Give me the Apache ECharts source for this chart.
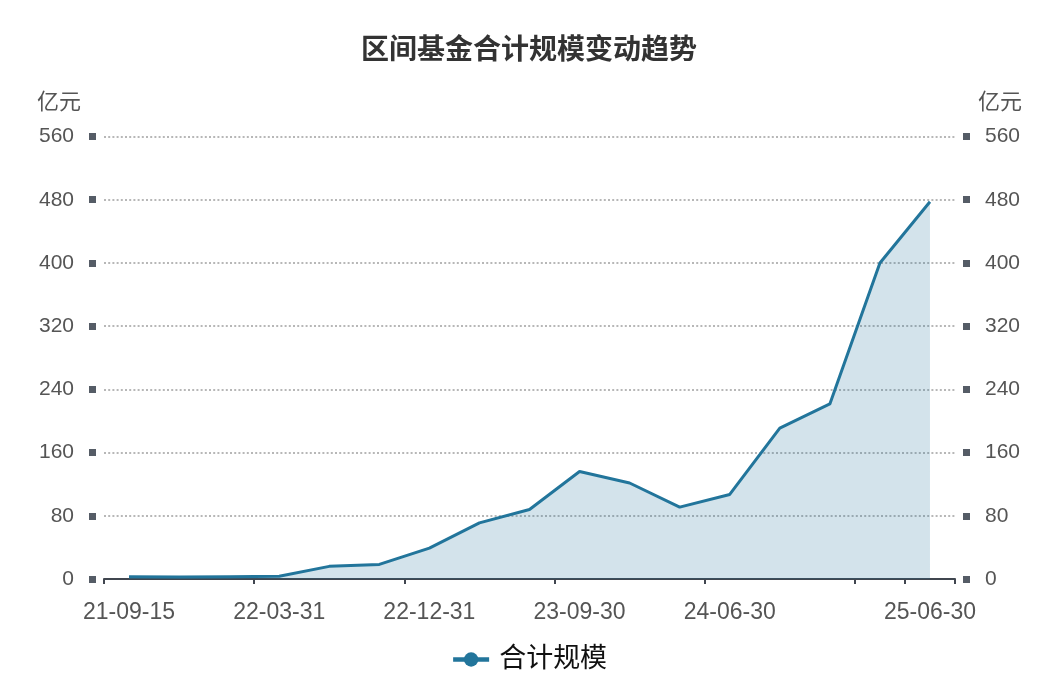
<!DOCTYPE html>
<html>
<head>
<meta charset="utf-8">
<script src="https://cdn.jsdelivr.net/npm/echarts@6/dist/echarts.min.js"></script>
<style>
html,body{margin:0;padding:0;background:#fff;}
#chart{width:1058px;height:700px;}
</style>
</head>
<body>
<div id="chart"></div>
<script>
const categories = ['21-09-15','21-09-30','21-12-31','22-03-31','22-06-30','22-09-30','22-12-31','23-03-31','23-06-30','23-09-30','23-12-31','24-03-31','24-06-30','24-09-30','24-12-31','25-03-31','25-06-30'];
const totalScale = [3, 2.5, 3, 3.5, 16, 18.5, 39, 71, 88, 136, 121.5, 91, 107, 191, 221.5, 400, 477.5];
const yTicks = {min: 0, max: 560, interval: 80};
const titleText = '区间基金合计规模变动趋势';
const seriesName = '合计规模';
const unitName = '亿元';

const lineColor = '#22759b';
const font = '"Liberation Sans", "Noto Sans CJK SC", sans-serif';

function yAxisCfg(pos) {
  const left = pos === 'left';
  return {
    type: 'value',
    position: pos,
    min: yTicks.min, max: yTicks.max, interval: yTicks.interval,
    offset: 8,
    name: unitName,
    nameLocation: 'end',
    nameGap: 23,
    nameTextStyle: {
      color: '#555', fontSize: 22, fontFamily: font,
      align: left ? 'right' : 'left',
      padding: left ? [0, 15, 0, 0] : [0, 0, 0, 15]
    },
    axisLine: {show: false},
    axisTick: {show: true, length: 7, lineStyle: {color: '#555c66', width: 7}},
    axisLabel: {color: '#555', fontSize: 21, fontFamily: font, margin: 22},
    splitLine: left ? {show: true, lineStyle: {color: '#a0a0a0', width: 1.5, type: [2, 2.2]}} : {show: false}
  };
}

const chart = echarts.init(document.getElementById('chart'), null, {renderer: 'canvas'});
chart.setOption({
  animation: false,
  backgroundColor: '#fff',
  title: {
    text: titleText, left: 'center', top: 32,
    textStyle: {fontSize: 28, fontWeight: 'bold', color: '#333', fontFamily: font}
  },
  legend: {
    data: [seriesName],
    bottom: 22, left: 'center',
    itemWidth: 36, itemHeight: 18, itemGap: 10,
    lineStyle: {width: 4.5},
    textStyle: {fontSize: 27, color: '#111', fontFamily: font, padding: [0, 0, 0, 5]}
  },
  grid: {left: 104, right: 103, top: 136.5, bottom: 121, containLabel: false},
  xAxis: {
    type: 'category',
    data: categories,
    boundaryGap: true,
    axisLine: {lineStyle: {color: '#40464f', width: 2}},
    axisTick: {show: true, length: 5, lineStyle: {color: '#40464f', width: 2}},
    axisLabel: {interval: 2, showMaxLabel: true, color: '#555', fontSize: 23, fontFamily: font, margin: 22}
  },
  yAxis: [yAxisCfg('left'), yAxisCfg('right')],
  series: [{
    name: seriesName,
    type: 'line',
    data: totalScale,
    yAxisIndex: 0,
    symbol: 'circle',
    symbolSize: 10,
    showSymbol: false,
    lineStyle: {color: lineColor, width: 3},
    itemStyle: {color: lineColor},
    areaStyle: {color: lineColor, opacity: 0.2}
  }]
});
</script>
</body>
</html>
